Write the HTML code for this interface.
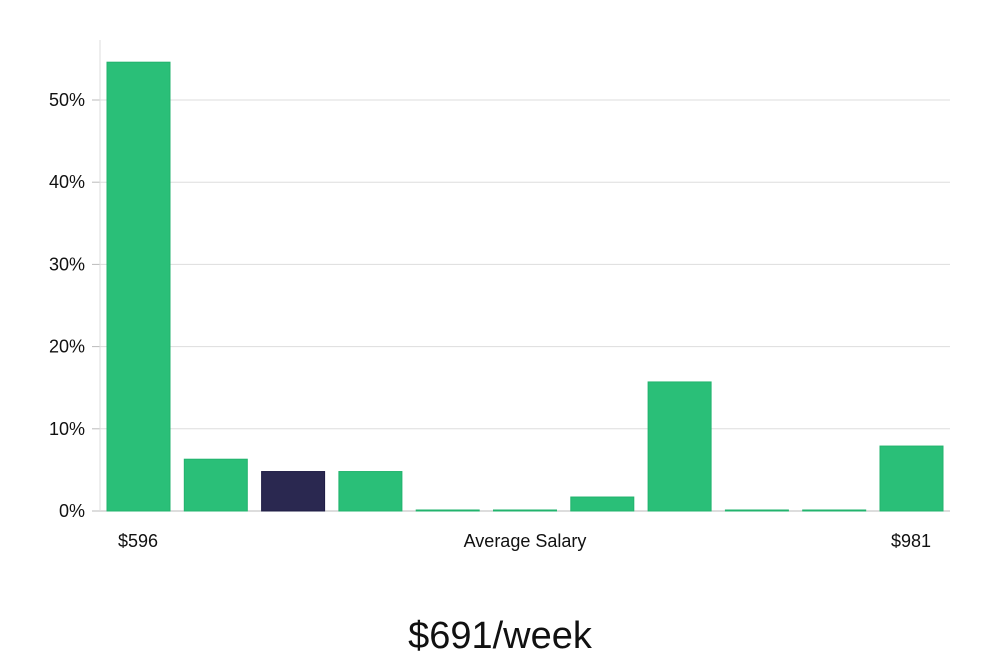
<!DOCTYPE html>
<html><head><meta charset="utf-8"><style>
body{margin:0;background:#fff;width:1000px;height:660px;overflow:hidden;font-family:"Liberation Sans","DejaVu Sans",sans-serif}
</style></head><body>
<svg id="chart" width="1000" height="660" xmlns="http://www.w3.org/2000/svg"></svg>
<script>
const categories=["b1","b2","b3","b4","b5","b6","b7","b8","b9","b10","b11"];
const values=[54.6,6.3,4.8,4.8,0.1,0.1,1.7,15.7,0.1,0.1,7.9];
const highlighted=[false,false,true,false,false,false,false,false,false,false,false];
const yTicks=[0,10,20,30,40,50];
const yTickLabels=["0%","10%","20%","30%","40%","50%"];
const xLabels=["$596","Average Salary","$981"];
const titleText="$691/week";
const NS="http://www.w3.org/2000/svg";
const svg=document.getElementById('chart');
const x0=100,x1=950,y0=511,pxPer=8.22;
const y=v=>y0-v*pxPer;
const step=77.3,bw=63,bx0=107;
const xb=i=>bx0+i*step;
function mk(t,a){const e=document.createElementNS(NS,t);for(const k in a)e.setAttribute(k,a[k]);svg.appendChild(e);return e;}
yTicks.forEach((t,i)=>{
 const g=mk('line',{x1:x0,x2:x1,y1:y(t),y2:y(t),stroke:t===0?'#bbb':'#ddd','stroke-width':1});
 
 
 const tk=mk('line',{x1:x0-8,x2:x0,y1:y(t),y2:y(t),stroke:'#bbb'});
 
 
 const l=mk('text',{x:85,y:y(t)+6,'text-anchor':'end','font-size':18,fill:'#111'});
 l.textContent=yTickLabels[i];
 
 
});
const ax=mk('line',{x1:x0,x2:x0,y1:40,y2:y0,stroke:'#ddd'});


values.forEach((v,i)=>{
 const h=Math.max(v*pxPer,1);
 const r=mk('rect',{x:xb(i),y:y0-h,width:bw,height:h,fill:highlighted[i]?'#2a2850':'#2abf78',stroke:highlighted[i]?'#1e1c44':'#22b36d','stroke-width':1});
 
 
});
const xl=[[138,'middle'],[525,'middle'],[911,'middle']];
xLabels.forEach((s,i)=>{
 const t=mk('text',{x:xl[i][0],y:547,'text-anchor':xl[i][1],'font-size':18,fill:'#111'});
 t.textContent=s;
 
 
});
const tt=mk('text',{x:500,y:648,'text-anchor':'middle','font-size':38,fill:'#111'});
tt.textContent=titleText;


</script>
</body></html>
